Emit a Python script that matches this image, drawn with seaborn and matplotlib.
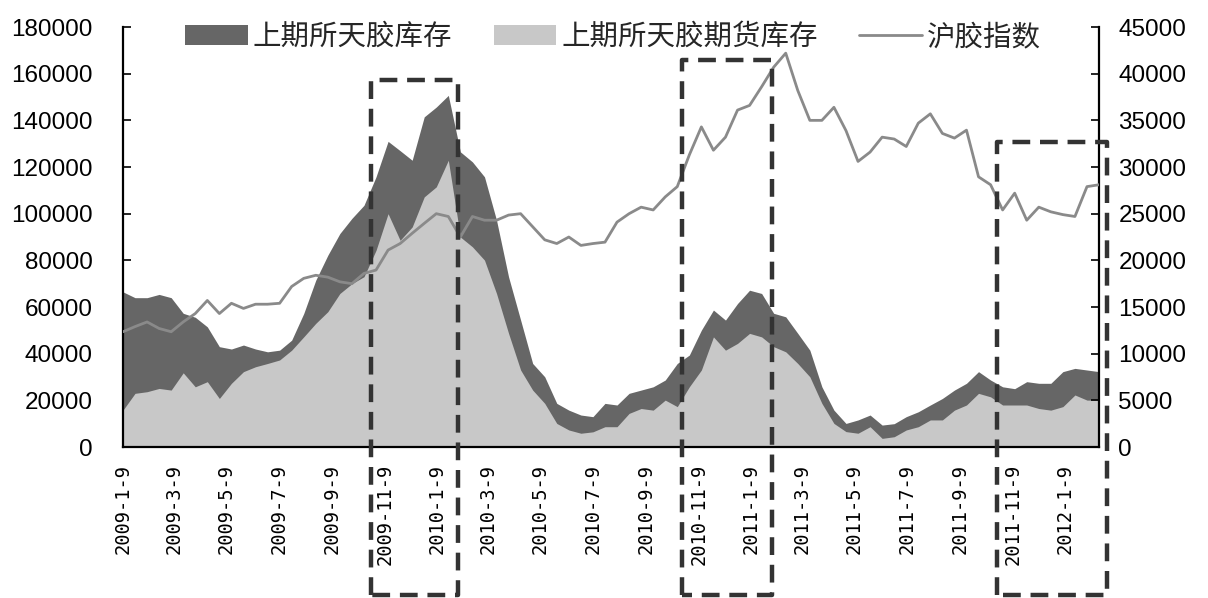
import numpy as np
import pandas as pd
import matplotlib
matplotlib.use("Agg")
import matplotlib.pyplot as plt
import seaborn as sns
from matplotlib.patches import Patch
from matplotlib.lines import Line2D

# ---------------- data (biweekly readings) ----------------
start_date = "2009-01-09"
n_points = 82

total_stock = [66500, 64000, 64000, 65400, 64000, 57300, 55600, 51500, 43000, 42000,
               43700, 42000, 40800, 41500, 45800, 57200, 71500, 82200, 91500, 98000,
               103600,
               115800, 131000, 127000, 122900, 141500, 145700, 150700, 126500, 122200,
               115800, 97200, 72900, 54400, 35800, 30100, 18700, 15800, 13700, 13000,
               18700,
               18000, 23000, 24400, 25800, 28700, 35800, 39400, 50100, 58700, 54400,
               61500, 67200, 65800, 57300, 55800, 48700, 41500, 25800, 15800, 10100,
               11600, 13700, 9400, 10000, 13000, 15100, 18000, 20800, 24400, 27300,
               32300, 28700, 25800, 25000, 28000, 27300, 27300, 32300, 33700, 33000,
               32300]

futures_stock = [15800, 23000, 23700, 25100, 24400, 31800, 25800, 28000, 20800, 27300,
                 32300, 34400, 35800, 37300, 41500, 47200, 53000, 58000, 65800, 70000,
                 73000,
                 84300, 100000, 88600, 94300, 107200, 111500, 122900, 90000, 85800,
                 80100, 65800, 48700, 33000, 24400, 18700, 10100, 7300, 5900, 6500,
                 8700,
                 8700, 14400, 16500, 15800, 20100, 17300, 25800, 33000, 47200, 41500,
                 44400, 48700, 47200, 43000, 40800, 35800, 30100, 18700, 10100, 6600,
                 5900, 8700, 3700, 4400, 7300, 8700, 11600, 11600, 15800, 18000,
                 23000, 21500, 18000, 18000, 18000, 16500, 15800, 17300, 22300, 20100,
                 20100]

rubber_index = [12350, 12900, 13400, 12700, 12350, 13400, 14300, 15700, 14300, 15400,
                14850, 15300, 15300, 15400, 17200, 18070, 18400, 18200, 17700, 17500,
                18600,
                18960, 21100, 21800, 22900, 23960, 25000, 24700, 22500, 24700, 24300,
                24300, 24850, 25000, 23600, 22200, 21800, 22500, 21600, 21800, 21950,
                24100, 25000, 25700, 25400, 26800, 27900, 31300, 34300, 31800, 33200,
                36100, 36600, 38600, 40700, 42200, 38200, 35000, 35000, 36400, 33900,
                30600, 31600, 33200, 33000, 32200, 34700, 35700, 33600, 33100, 33950,
                28950, 28100, 25400, 27200, 24300, 25700, 25200, 24900, 24700, 27900,
                28100]

series_names = ["上期所天胶库存", "上期所天胶期货库存", "沪胶指数"]

tick_dates = ["2009-01-09", "2009-03-09", "2009-05-09", "2009-07-09", "2009-09-09",
              "2009-11-09", "2010-01-09", "2010-03-09", "2010-05-09", "2010-07-09",
              "2010-09-09", "2010-11-09", "2011-01-09", "2011-03-09", "2011-05-09",
              "2011-07-09", "2011-09-09", "2011-11-09", "2012-01-09"]
tick_labels = ["2009-1-9", "2009-3-9", "2009-5-9", "2009-7-9", "2009-9-9",
               "2009-11-9", "2010-1-9", "2010-3-9", "2010-5-9", "2010-7-9",
               "2010-9-9", "2010-11-9", "2011-1-9", "2011-3-9", "2011-5-9",
               "2011-7-9", "2011-9-9", "2011-11-9", "2012-1-9"]

left_ticks = list(range(0, 180001, 20000))
right_ticks = list(range(0, 45001, 5000))

# highlight boxes: (start, end, top in left-axis units)
box_starts = ["2009-10-24", "2010-10-20", "2011-10-22"]
box_ends = ["2010-02-02", "2011-02-02", "2012-02-26"]
box_tops = [157200, 166000, 130800]
box_bottom = -63400

# ---------------- build ----------------
dates = pd.date_range(start_date, periods=n_points, freq="14D")
df = pd.DataFrame({"date": dates, "total": total_stock,
                   "futures": futures_stock, "index": rubber_index})

sns.set_theme(style="white")
plt.rcParams["font.family"] = ["Liberation Sans", "Noto Sans CJK SC", "DejaVu Sans"]

fig = plt.figure(figsize=(12.08, 5.98), dpi=100)
ax = fig.add_axes([0.1018, 0.2525, 0.808, 0.7023])
ax2 = ax.twinx()

dark = "#666666"
light = "#c8c8c8"
line_c = "#8a8a8a"

ax.fill_between(df["date"], 0, df["total"], color=dark, linewidth=0, zorder=1)
ax.fill_between(df["date"], 0, df["futures"], color=light, linewidth=0, zorder=2)

sns.lineplot(data=df, x="date", y="index", ax=ax2, color=line_c, linewidth=2.0,
             legend=False, zorder=3)

ax.set_xlim(dates[0], dates[-1])
ax.set_ylim(0, 180000)
ax2.set_ylim(0, 45000)
ax.set_yticks(left_ticks)
ax.set_yticklabels([str(v) for v in left_ticks])
ax2.set_yticks(right_ticks)
ax2.set_yticklabels([str(v) for v in right_ticks])
ax.set_xticks(pd.to_datetime(tick_dates))
ax.set_xticklabels(tick_labels, rotation=90, family="DejaVu Sans Mono", fontsize=13.5)
ax.set_xlabel("")
ax.set_ylabel("")
ax2.set_xlabel("")
ax2.set_ylabel("")

for a in (ax, ax2):
    a.grid(False)
    a.set_facecolor("none")
    for s in a.spines.values():
        s.set_color("black")
        s.set_linewidth(1.6)
    a.spines["top"].set_visible(False)

ax.spines["right"].set_visible(False)
ax2.spines["left"].set_visible(False)
ax2.spines["bottom"].set_visible(False)

ax.tick_params(axis="y", direction="in", length=6, width=1.2, labelsize=17.5, pad=22,
               colors="black")
ax.tick_params(axis="x", direction="in", length=6, width=1.2, pad=12, colors="black")
ax2.tick_params(axis="y", direction="in", length=6, width=1.2, labelsize=17.5, pad=14,
                colors="black")

# dashed highlight boxes
for s, e, t in zip(box_starts, box_ends, box_tops):
    s = pd.Timestamp(s)
    e = pd.Timestamp(e)
    ax2.plot([s, s, e, e, s], [box_bottom / 4, t / 4, t / 4, box_bottom / 4, box_bottom / 4],
             color="#333333", linewidth=3.2, dashes=(4, 2.2), clip_on=False, zorder=10,
             solid_capstyle="butt", dash_capstyle="butt")

handles = [Patch(facecolor=dark, edgecolor="none"),
           Patch(facecolor=light, edgecolor="none"),
           Line2D([0], [0], color=line_c, linewidth=2.0)]
leg = ax2.legend(handles, series_names, loc="center", bbox_to_anchor=(0.502, 0.976),
                 ncol=3, frameon=False, handlelength=2.2, handletextpad=0.18,
                 columnspacing=1.45, borderpad=0,
                 prop={"family": ["Noto Sans CJK SC", "DejaVu Sans"], "size": 20.5,
                       "weight": "light"})
leg.set_zorder(20)

fig.savefig("out.png", dpi=100, facecolor="white")
